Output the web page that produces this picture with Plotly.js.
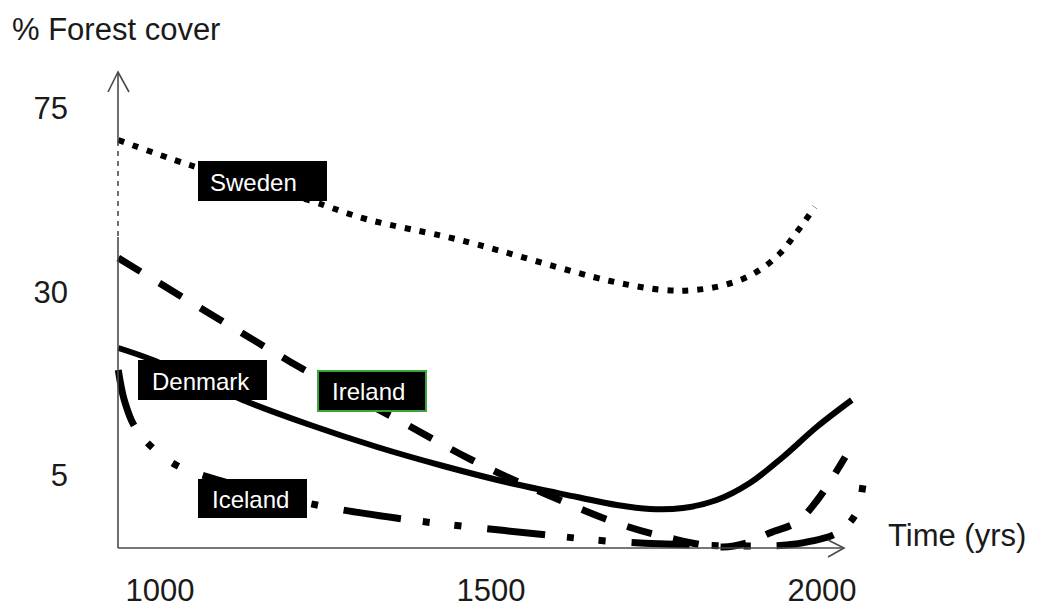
<!DOCTYPE html>
<html><head><meta charset="utf-8">
<script src="https://cdn.plot.ly/plotly-3.0.1.min.js"></script>
<style>html,body{margin:0;padding:0;background:#fff}#chart{width:1037px;height:609px}</style>
</head><body><div id="chart"></div>
<script>
// Schematic chart: the cover axis is not linear; values below are positions on that
// schematic axis, with the labelled ticks 5, 30 and 75 placed at yTickPos.
const yTickPos = [73, 256, 440];
const yTickText = ['5', '30', '75'];
const xTickVals = [1000, 1500, 2000];
const xTickText = ['1000', '1500', '2000'];

const swedenYears = [937, 1045, 1224, 1311, 1453, 1680, 1761, 1808, 1853, 1896, 1934, 1962, 1989];
const swedenCover = [408, 383, 348, 329, 308, 267, 258, 258, 263, 274, 293, 316, 341];

const irelandYears = [937, 1116, 1237, 1360, 1471, 1579, 1690, 1770, 1850, 1891, 1921, 1962, 1993, 2035];
const irelandCover = [290, 218, 171, 128, 88, 55, 25, 10, 1, 6, 15, 26, 48, 91];

const denmarkYears = [937, 989, 1125, 1227, 1328, 1428, 1529, 1630, 1690, 1740, 1790, 1841, 1891, 1941, 1992, 2045];
const denmarkCover = [200, 188, 148, 123, 101, 82, 65, 51, 43, 39, 40, 48, 65, 91, 121, 148];

const icelandYears = [937, 946, 962, 989, 1027, 1068, 1237, 1367, 1456, 1585, 1675, 1801, 1906, 1960, 2023, 2051, 2062];
const icelandCover = [178, 148, 121, 100, 82, 72, 43, 29, 22, 13, 7, 3, 2, 4, 15, 34, 64];

const labelNames = ['Sweden', 'Denmark', 'Ireland', 'Iceland'];

// ---- geometry of the drawing area (pixels) ----
const L = 110, T = 66, PW = 760, PH = 493, W = 1037, H = 609;
const X0 = 1000 - (160 - L) * 500 / 331, X1 = X0 + PW * 500 / 331;
const Y1 = 548 - T, Y0 = 548 - (T + PH);
const xp = px => (px - L) / PW;
const yp = py => 1 - (py - T) / PH;

const FONT = 'Liberation Sans, Arial, sans-serif';
const AX = '#4a4a4a';
const TXT = '#1a1a1a';

function tr(x, y, dash, width) {
  return {x: x, y: y, type: 'scatter', mode: 'lines', hoverinfo: 'skip', showlegend: false,
    line: {color: '#000', width: width, dash: dash, shape: 'spline', smoothing: 1}};
}
const data = [
  tr(swedenYears, swedenCover, '6px,9px', 6),
  tr(irelandYears, irelandCover, '26px,22px', 7),
  tr(denmarkYears, denmarkCover, 'solid', 6),
  tr(icelandYears, icelandCover, '58px,22px,7px,25px,7px,26px', 7)
];

function line(x0, y0, x1, y1, dash) {
  return {type: 'line', xref: 'paper', yref: 'paper', x0: xp(x0), y0: yp(y0), x1: xp(x1), y1: yp(y1),
    line: {color: AX, width: 1.6, dash: dash || 'solid'}, layer: 'above'};
}
function path(pts) {
  const d = pts.map((p, i) => (i ? 'L' : 'M') + xp(p[0]).toFixed(5) + ',' + yp(p[1]).toFixed(5)).join(' ');
  return {type: 'path', xref: 'paper', yref: 'paper', path: d, line: {color: AX, width: 1.6}, layer: 'above'};
}
function box(x0, y0, x1, y1, border) {
  return {type: 'rect', xref: 'paper', yref: 'paper', x0: xp(x0), y0: yp(y0), x1: xp(x1), y1: yp(y1),
    fillcolor: '#000', line: border ? {color: border, width: 2} : {width: 0}, layer: 'above'};
}

const shapes = [
  line(118, 72, 118, 141),
  line(118, 141, 118, 237, '5px,5px'),
  line(118, 237, 118, 548),
  line(118, 548, 844, 548),
  path([[108, 92], [118, 72], [129, 92]]),
  path([[828, 540], [844, 548], [828, 557]]),
  box(198, 161, 327, 201),
  box(138, 360, 267, 400),
  box(318, 371, 426, 411, '#3aa63a'),
  box(198, 479, 307, 518)
];

function txt(text, px, py, size, color, xanchor) {
  return {text: text, xref: 'paper', yref: 'paper', x: xp(px), y: yp(py), showarrow: false,
    xanchor: xanchor || 'left', yanchor: 'middle', font: {family: FONT, size: size, color: color}};
}
const annotations = [
  txt('% Forest cover', 10, 30, 31, TXT),
  txt('Time (yrs)', 886, 535, 31, TXT),
  txt(labelNames[0], 208, 182, 24, '#fff'),
  txt(labelNames[1], 150, 381, 24, '#fff'),
  txt(labelNames[2], 330, 391, 24, '#fff'),
  txt(labelNames[3], 210, 499, 24, '#fff')
];

const layout = {
  width: W, height: H,
  margin: {l: L, r: W - L - PW, t: T, b: H - T - PH, pad: 0},
  paper_bgcolor: '#fff', plot_bgcolor: '#fff',
  showlegend: false,
  font: {family: FONT, color: TXT},
  xaxis: {range: [X0, X1], showgrid: false, zeroline: false, showline: false, ticks: '',
    tickmode: 'array', tickvals: xTickVals, ticktext: xTickText, ticklabelstandoff: 10,
    tickfont: {family: FONT, size: 31, color: TXT}, fixedrange: true},
  yaxis: {range: [Y0, Y1], showgrid: false, zeroline: false, showline: false, ticks: '',
    tickmode: 'array', tickvals: yTickPos, ticktext: yTickText, ticklabelstandoff: 41,
    tickfont: {family: FONT, size: 31, color: TXT}, fixedrange: true},
  shapes: shapes,
  annotations: annotations
};

Plotly.newPlot('chart', data, layout, {staticPlot: true, displayModeBar: false});
</script>
</body></html>
